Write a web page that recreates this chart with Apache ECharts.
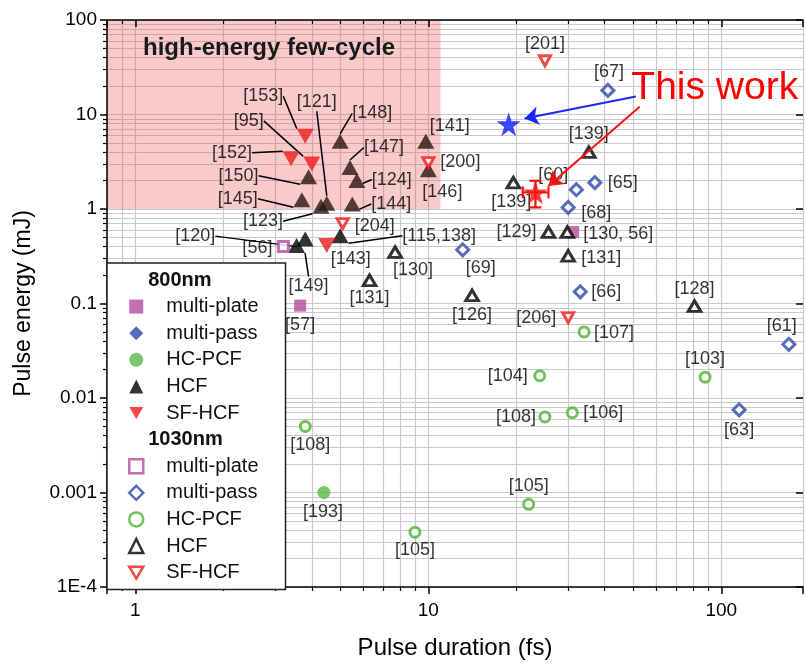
<!DOCTYPE html>
<html>
<head>
<meta charset="utf-8">
<script src="https://cdn.jsdelivr.net/npm/echarts@6.0.0/dist/echarts.min.js"></script>
<style>html,body{margin:0;padding:0;background:#fff;}#chart{width:806px;height:665px;}</style>
</head>
<body>
<div id="chart"></div>
<script>
// ---------- data (x = pulse duration fs, y = pulse energy mJ, label) ----------
const plate800 = [[3.65, 0.095, '[57]'], [31.2, 0.57, '']];
const pass800 = [];
const pcf800 = [[4.4, 0.001, '[193]']];
const hcf800 = [
  [5.0, 5.2, '[148]'], [5.4, 2.75, '[147]'], [5.7, 2.0, '[124]'], [3.9, 2.2, '[150]'],
  [3.7, 1.25, '[145]'], [4.5, 1.15, '[121]'], [4.3, 1.07, '[123]'], [5.5, 1.13, '[144]'],
  [9.8, 5.2, '[141]'], [10.0, 2.6, '[146]'], [3.8, 0.48, '[120]'], [3.55, 0.41, '[149]'],
  [5.0, 0.52, '[115,138]']
];
const sf800 = [[3.8, 5.9, '[153]'], [4.0, 3.0, '[95]'], [3.4, 3.4, '[152]'], [4.5, 0.41, '[143]']];
const plate1030 = [[3.2, 0.40, '[56]']];
const pass1030 = [
  [41, 18, '[67]'], [37, 1.9, '[65]'], [32, 1.6, '[60]'], [30, 1.04, '[68]'],
  [13.1, 0.37, '[69]'], [33, 0.133, '[66]'], [170, 0.037, '[61]'], [115, 0.0075, '[63]']
];
const pcf1030 = [
  [34, 0.05, '[107]'], [24, 0.0172, '[104]'], [25, 0.0063, '[108]'], [31, 0.007, '[106]'],
  [88, 0.0166, '[103]'], [22, 0.00075, '[105]'], [3.8, 0.005, '[108]'], [9.0, 0.00038, '[105]']
];
const hcf1030 = [
  [7.7, 0.35, '[130]'], [6.3, 0.176, '[131]'], [14.1, 0.122, '[126]'], [81, 0.094, '[128]'],
  [19.5, 1.9, '[139]'], [35.3, 4.0, '[139]'], [25.7, 0.57, '[129]'], [29.8, 0.57, '[130, 56]'],
  [30.0, 0.32, '[131]']
];
const sf1030 = [[5.1, 0.70, '[204]'], [10.0, 3.1, '[200]'], [25, 37, '[201]'], [30, 0.071, '[206]']];
const thisWorkBlue = [[18.8, 7.9]];
const thisWorkRed = [[23.2, 1.5]];
// [x, y, xLow, xHigh, yLow, yHigh]
const thisWorkRedErr = [[23.2, 1.5, 21.0, 25.7, 1.04, 1.99]];

// annotations (data coordinates)
const fewCycleRegion = [[0.8, 1], [11, 100]];
const fewCycleText = 'high-energy few-cycle';
const thisWorkText = 'This work';
const thisWorkTextAt = [49.1, 19.0];
const arrowBlue = [[51.1, 15.5], [21.3, 9.08]];
const arrowRed = [[52.6, 12.1], [25.7, 1.75]];

// legend / axes text
const legendHeaders = ['800nm', '1030nm'];
const xName = 'Pulse duration (fs)';
const yName = 'Pulse energy (mJ)';

// ---------- label placement (pixel offsets of label centre, leader flag) ----------
const plate800Lab = [[0, 19, 0], [0, 0, 0]];
const pcf800Lab = [[-1, 20, 0]];
const hcf800Lab = [[32, -28, 1], [34, -20, 1], [35, -1, 1], [-70, -1, 1], [-64, -1, 1], [-10, -101, 1],
  [-58, 15, 1], [39, 0, 1], [24, -15, 0], [14, 22, 0], [-110, -3, 1], [12, 40, 1], [99, 0, 1]];
const sf800Lab = [[-42, -40, 1], [-63, -43, 1], [-59, -6, 1], [24, 13, 0]];
const plate1030Lab = [[-26, 1, 0]];
const pass1030Lab = [[1, -18, 0], [28, 0, 0], [-23, -15, 0], [28, 6, 0], [18, 18, 0], [26, 0, 0], [-7, -18, 0], [0, 20, 0]];
const pcf1030Lab = [[30, 1, 0], [-32, 0, 0], [-29, 0, 0], [31, 0, 0], [0, -18, 0], [0, -18, 0], [5, 19, 0], [0, 18, 0]];
const hcf1030Lab = [[18, 18, 0], [0, 18, 0], [0, 20, 0], [0, -17, 0], [-2, 19, 0], [0, -18, 0], [-32, 0, 0], [51, 2, 0], [33, 2, 0]];
const sf1030Lab = [[32, 2, 0], [32, -1, 0], [0, -17, 0], [-32, 0, 0]];

// ---------- styles ----------
const FONT = '"Liberation Sans", Arial, Helvetica, sans-serif';
const MAG = '#b24c9e', BLUE = '#2a4aa5', GREEN = '#5bb847', GREEN_O = '#4fb232', RED = '#ee1c1c';
const GRID = '#c9c9c9';
const TRI_DOWN = 'path://M0,0L20,0L10,17Z';
const STAR = 'path://M50,0L61.2,34.5L97.6,34.5L68.2,55.9L79.4,90.5L50,69.1L20.6,90.5L31.8,55.9L2.4,34.5L38.8,34.5Z';

function inFewCycle(p) {
  return p[0] >= fewCycleRegion[0][0] && p[0] <= fewCycleRegion[1][0] && p[1] >= fewCycleRegion[0][1];
}

function scatter(name, pts, labs, symbol, size, style, extra, darkInRegion) {
  return Object.assign({
    type: 'scatter', name: name, symbol: symbol, symbolSize: size, itemStyle: style,
    xAxisIndex: 0, yAxisIndex: 0, z: 2, silent: true,
    emphasis: { disabled: true },
    data: pts.map(function (p, i) {
      const d = { value: [p[0], p[1]], name: p[2], labelLine: { show: !!labs[i][2] } };
      if (darkInRegion && inFewCycle(p)) d.itemStyle = { color: darkInRegion };
      return d;
    }),
    label: { show: true, position: 'inside', formatter: '{b}', color: '#000', fontSize: 18,
      fontFamily: FONT, textBorderWidth: 0 },
    labelLine: { show: true, length2: 0, smooth: false, lineStyle: { color: '#000', width: 1.5 } },
    labelLayout: function (p) { const o = labs[p.dataIndex]; return { dx: o[0], dy: o[1] }; }
  }, extra || {});
}

const fmtX = function (v) {
  const l = Math.log10(v);
  return Math.abs(l - Math.round(l)) < 1e-6 ? String(Math.round(v)) : '';
};
const fmtY = function (v) {
  if (Math.abs(v - 1e-4) < 1e-10) return '1E-4';
  return String(+v.toPrecision(6));
};

const axisLineStyle = { color: '#000', width: 1.5 };
const xBase = { type: 'log', logBase: 10, min: 0.8, max: 190, gridIndex: 0 };
const yBase = { type: 'log', logBase: 10, min: 1e-4, max: 100, gridIndex: 0 };
const hollowLegend = { borderWidth: 2.5 };

const chart = echarts.init(document.getElementById('chart'), null, { renderer: 'canvas' });

const option = {
  animation: false,
  backgroundColor: '#fff',
  grid: { left: 107, right: 0, top: 20, bottom: 75, containLabel: false },
  xAxis: [
    Object.assign({}, xBase, {
      position: 'bottom', z: 5,
      axisLine: { show: true, onZero: false, lineStyle: axisLineStyle },
      axisTick: { show: true, length: 7, lineStyle: axisLineStyle },
      minorTick: { show: true, splitNumber: 9, length: 4, lineStyle: { color: '#000', width: 1.2 } },
      axisLabel: { formatter: fmtX, fontSize: 19, color: '#000', margin: 14, fontFamily: FONT },
      splitLine: { show: false },
      name: xName, nameLocation: 'middle', nameGap: 49,
      nameTextStyle: { fontSize: 24, color: '#000', fontFamily: FONT }
    }),
    Object.assign({}, xBase, {
      position: 'bottom', z: 0,
      axisLine: { show: false }, axisTick: { show: false }, axisLabel: { show: false },
      minorTick: { show: false, splitNumber: 9 },
      splitLine: { show: true, lineStyle: { color: GRID, width: 1.2 } },
      minorSplitLine: { show: true, lineStyle: { color: GRID, width: 1.2 } }
    }),
    Object.assign({}, xBase, {
      position: 'top', z: 5,
      axisLine: { show: true, onZero: false, lineStyle: axisLineStyle },
      axisTick: { show: true, inside: true, length: 7, lineStyle: axisLineStyle },
      minorTick: { show: true, splitNumber: 9, length: 4, lineStyle: { color: '#000', width: 1.2 } },
      axisLabel: { show: false }, splitLine: { show: false }
    })
  ],
  yAxis: [
    Object.assign({}, yBase, {
      position: 'left', z: 5,
      axisLine: { show: true, onZero: false, lineStyle: axisLineStyle },
      axisTick: { show: true, length: 7, lineStyle: axisLineStyle },
      minorTick: { show: true, splitNumber: 9, length: 4, lineStyle: { color: '#000', width: 1.2 } },
      axisLabel: { formatter: fmtY, fontSize: 19, color: '#000', margin: 10, fontFamily: FONT },
      splitLine: { show: false },
      name: yName, nameLocation: 'middle', nameGap: 72,
      nameTextStyle: { fontSize: 23, color: '#000', fontFamily: FONT }
    }),
    Object.assign({}, yBase, {
      position: 'left', z: 0,
      axisLine: { show: false }, axisTick: { show: false }, axisLabel: { show: false },
      minorTick: { show: false, splitNumber: 9 },
      splitLine: { show: true, lineStyle: { color: GRID, width: 1.2 } },
      minorSplitLine: { show: true, lineStyle: { color: GRID, width: 1.2 } }
    }),
    Object.assign({}, yBase, {
      position: 'right', z: 5,
      axisLine: { show: false },
      axisTick: { show: true, inside: true, length: 7, lineStyle: axisLineStyle },
      axisLabel: { show: false }, splitLine: { show: false }
    })
  ],
  legend: {
    orient: 'vertical', left: 107, top: 263, padding: [7, 27, 7, 21],
    itemGap: 6.6, itemWidth: 14, itemHeight: 14,
    backgroundColor: '#fff', borderColor: '#222', borderWidth: 1.5, borderRadius: 0,
    selectedMode: false, z: 10,
    textStyle: { fontSize: 20, color: '#111', fontFamily: FONT, lineHeight: 20, padding: [0, 0, 0, 18] },
    formatter: function (name) { return name.replace(/^(800|1030) /, ''); },
    data: [
      { name: legendHeaders[0], icon: 'none', textStyle: { fontWeight: 'bold', padding: 0 } },
      '800 multi-plate', '800 multi-pass', '800 HC-PCF', '800 HCF', '800 SF-HCF',
      { name: legendHeaders[1], icon: 'none', textStyle: { fontWeight: 'bold', padding: 0 } },
      { name: '1030 multi-plate', itemStyle: hollowLegend },
      { name: '1030 multi-pass', itemStyle: hollowLegend },
      { name: '1030 HC-PCF', itemStyle: hollowLegend },
      { name: '1030 HCF', itemStyle: hollowLegend },
      { name: '1030 SF-HCF', itemStyle: hollowLegend }
    ]
  },
  series: [
    { type: 'scatter', name: legendHeaders[0], data: [], symbol: 'none' },
    { type: 'scatter', name: legendHeaders[1], data: [], symbol: 'none' },
    scatter('800 multi-plate', plate800, plate800Lab, 'rect', 12, { color: MAG }),
    scatter('800 multi-pass', pass800, [], 'diamond', 16, { color: BLUE }),
    scatter('800 HC-PCF', pcf800, pcf800Lab, 'circle', 13, { color: GREEN }),
    scatter('800 HCF', hcf800, hcf800Lab, 'triangle', [17, 15], { color: '#000' }, {
      markArea: {
        silent: true, z: 1,
        itemStyle: { color: 'rgba(232,80,80,0.3)', borderWidth: 0 },
        label: { show: true, position: 'insideTopLeft', distance: 5, offset: [31, 11],
          formatter: fewCycleText, fontSize: 24, fontWeight: 'bold', color: '#1a1a1a', fontFamily: FONT },
        data: [[{ xAxis: fewCycleRegion[0][0], yAxis: fewCycleRegion[0][1] },
                { xAxis: fewCycleRegion[1][0], yAxis: fewCycleRegion[1][1] }]]
      }
    }, '#2b1414'),
    scatter('800 SF-HCF', sf800, sf800Lab, TRI_DOWN, [17, 15], { color: RED }),
    scatter('1030 multi-plate', plate1030, plate1030Lab, 'rect', 10, { color: '#fff', borderColor: MAG, borderWidth: 3 }),
    scatter('1030 multi-pass', pass1030, pass1030Lab, 'diamond', 12, { color: '#fff', borderColor: BLUE, borderWidth: 3 }),
    scatter('1030 HC-PCF', pcf1030, pcf1030Lab, 'circle', 10, { color: '#fff', borderColor: GREEN_O, borderWidth: 3 }),
    scatter('1030 HCF', hcf1030, hcf1030Lab, 'triangle', [12.5, 10.5], { color: '#fff', borderColor: '#000', borderWidth: 3 }),
    scatter('1030 SF-HCF', sf1030, sf1030Lab, TRI_DOWN, [11, 10], { color: '#fff', borderColor: RED, borderWidth: 3 }),
    {
      type: 'custom', name: 'this work error', data: thisWorkRedErr, z: 3, silent: true,
      xAxisIndex: 0, yAxisIndex: 0, encode: { x: 0, y: 1 },
      renderItem: function (params, api) {
        const x = api.value(0), y = api.value(1);
        const l = api.coord([api.value(2), y]), r = api.coord([api.value(3), y]);
        const b = api.coord([x, api.value(4)]), t = api.coord([x, api.value(5)]);
        const c = 6;
        const st = { stroke: '#ff1010', lineWidth: 2.2 };
        return { type: 'group', children: [
          { type: 'line', shape: { x1: l[0], y1: l[1], x2: r[0], y2: r[1] }, style: st },
          { type: 'line', shape: { x1: l[0], y1: l[1] - c, x2: l[0], y2: l[1] + c }, style: st },
          { type: 'line', shape: { x1: r[0], y1: r[1] - c, x2: r[0], y2: r[1] + c }, style: st },
          { type: 'line', shape: { x1: b[0], y1: b[1], x2: t[0], y2: t[1] }, style: st },
          { type: 'line', shape: { x1: b[0] - c, y1: b[1], x2: b[0] + c, y2: b[1] }, style: st },
          { type: 'line', shape: { x1: t[0] - c, y1: t[1], x2: t[0] + c, y2: t[1] }, style: st }
        ] };
      }
    },
    {
      type: 'scatter', name: 'this work red', data: thisWorkRed, symbol: STAR, symbolSize: 24,
      itemStyle: { color: '#ff1010' }, z: 4, silent: true, xAxisIndex: 0, yAxisIndex: 0,
      markLine: {
        silent: true, symbol: ['none', 'arrow'], symbolSize: 14, animation: false,
        label: { show: false }, lineStyle: { color: '#ff1010', width: 2, type: 'solid' },
        data: [[{ coord: arrowRed[0] }, { coord: arrowRed[1] }]]
      }
    },
    {
      type: 'scatter', name: 'this work blue', data: thisWorkBlue, symbol: STAR, symbolSize: 24,
      itemStyle: { color: '#0a1aff' }, z: 4, silent: true, xAxisIndex: 0, yAxisIndex: 0,
      markLine: {
        silent: true, symbol: ['none', 'arrow'], symbolSize: 14, animation: false,
        label: { show: false }, lineStyle: { color: '#1a2aff', width: 2, type: 'solid' },
        data: [[{ coord: arrowBlue[0] }, { coord: arrowBlue[1] }]]
      },
      markPoint: {
        silent: true, symbol: 'circle', symbolSize: 1, itemStyle: { color: 'rgba(0,0,0,0)' },
        label: { show: true, position: 'right', distance: 0, formatter: thisWorkText,
          color: '#ff0000', fontSize: 39, fontFamily: FONT },
        data: [{ coord: thisWorkTextAt }]
      }
    }
  ]
};
chart.setOption(option);
</script>
</body>
</html>
